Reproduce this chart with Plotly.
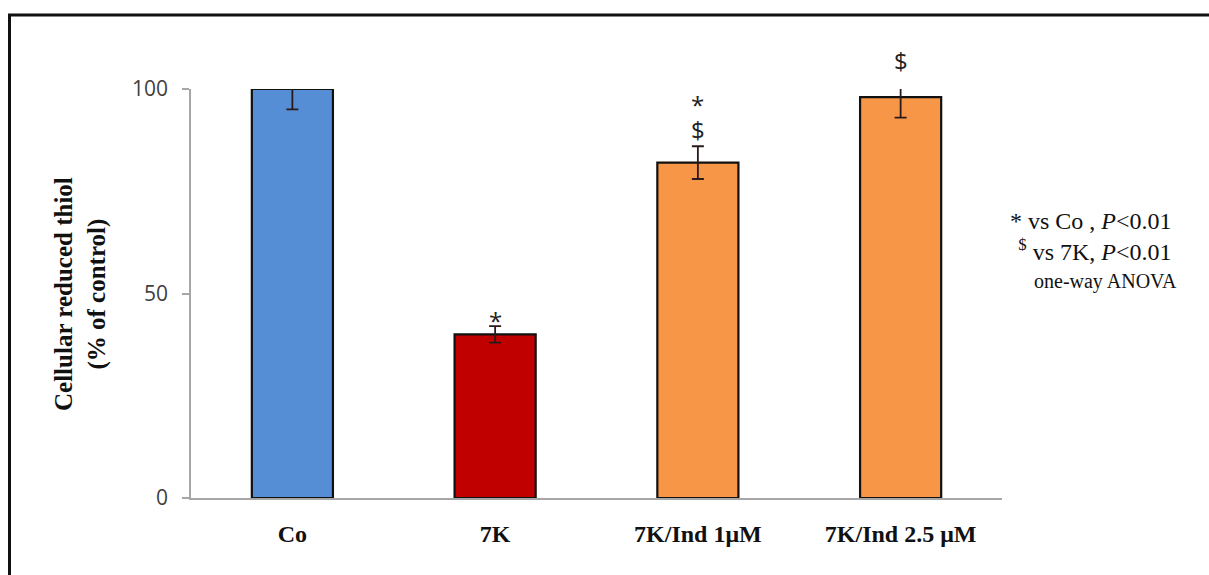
import plotly.graph_objects as go

categories = ["Co", "7K", "7K/Ind 1\u03bcM", "7K/Ind 2.5 \u03bcM"]
values = [100, 40, 82, 98]
errors = [5, 2, 4, 5]
colors = ["#558ED5", "#C00000", "#F79646", "#F79646"]
marks = [[], ["*"], ["$", "*"], ["$"]]   # bottom to top
y_ticks = [0, 50, 100]
y_max = 100

W, H = 1209, 575
L, R, T, B = 191, 1002, 89, 498
px_per_unit = (B - T) / y_max

fig = go.Figure()
fig.add_trace(go.Bar(
    x=list(range(len(categories))), y=values,
    marker=dict(color=colors, line=dict(color="#111111", width=2.2)),
    width=0.4,
    error_y=dict(type="data", array=errors, color="#2a1a1a", thickness=1.8, width=6),
    cliponaxis=True,
    showlegend=False,
))

for i, ms in enumerate(marks):
    top = values[i] + errors[i]
    anchor = min(top, y_max)
    extra = (top - anchor) * px_per_unit
    stack = 0
    for m in ms:
        shift = (-13 if m == "*" else -2) + stack + extra
        fig.add_annotation(x=i, y=anchor, text=m, showarrow=False,
                           yanchor="bottom", yshift=shift,
                           font=dict(family="Open Sans, Liberation Sans", size=24, color="#222222"))
        stack += 36

def px(x):
    return (x - L) / (R - L)

def py(y):
    return (B - y) / (B - T)

# frame lines
fig.add_shape(type="line", xref="paper", yref="paper", x0=px(8), x1=px(1209), y0=py(15), y1=py(15),
              line=dict(color="#111111", width=3))
fig.add_shape(type="line", xref="paper", yref="paper", x0=px(9.5), x1=px(9.5), y0=py(14), y1=py(575),
              line=dict(color="#111111", width=3))

# y title
fig.add_annotation(xref="paper", yref="paper", x=px(80), y=py(294), textangle=-90,
                   xanchor="center", yanchor="middle",
                   text="<b>Cellular reduced thiol<br>(% of control)</b>", showarrow=False,
                   font=dict(family="Liberation Serif", size=25, color="#111111"))

# legend text
fig.add_annotation(xref="paper", yref="paper", x=px(1174), y=py(236), xanchor="right", yanchor="middle",
                   align="right",
                   text="* vs Co , <i>P</i><0.01<br><sup>$</sup> vs 7K, <i>P</i><0.01",
                   showarrow=False, font=dict(family="Liberation Serif", size=24, color="#111111"))
fig.add_annotation(xref="paper", yref="paper", x=px(1179), y=py(281), xanchor="right",
                   text="one-way ANOVA", showarrow=False,
                   font=dict(family="Liberation Serif", size=20, color="#111111"))

fig.update_layout(
    width=W, height=H,
    margin=dict(l=L, r=W - R, t=T, b=H - B),
    plot_bgcolor="white", paper_bgcolor="white",
)
fig.update_xaxes(range=[-0.5, 3.5], tickvals=list(range(len(categories))),
                 ticktext=["<b>%s</b>" % c for c in categories],
                 showline=True, linecolor="#A6A6A6", linewidth=1.5, showgrid=False,
                 ticks="", ticklabelstandoff=13, zeroline=False,
                 tickfont=dict(family="Liberation Serif", size=24, color="#111111"))
fig.update_yaxes(range=[0, y_max], tickvals=y_ticks, showline=True, linecolor="#A6A6A6",
                 linewidth=1.5, showgrid=False, ticks="outside", ticklen=7, tickcolor="#A6A6A6",
                 tickwidth=1.5, zeroline=False, ticklabelstandoff=10,
                 tickfont=dict(family="Open Sans, Liberation Sans", size=21, color="#404040"))

fig.write_html("out.html", config={"displayModeBar": False},
               post_script="document.body.style.margin='0px';document.body.style.overflow='hidden';")
